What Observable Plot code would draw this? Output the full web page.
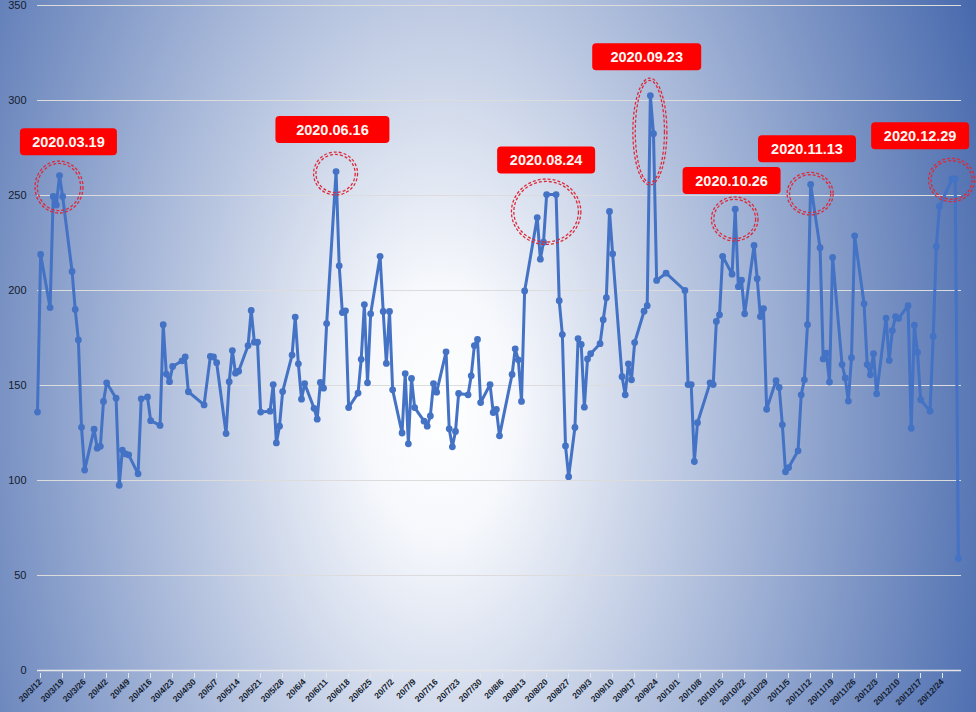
<!DOCTYPE html>
<html><head><meta charset="utf-8">
<script src="https://cdn.jsdelivr.net/npm/d3@7"></script>
<script src="https://cdn.jsdelivr.net/npm/@observablehq/plot@0.6"></script>
<style>html,body{margin:0;padding:0;} #chart svg{display:block;}</style>
</head><body><div id="chart"></div>
<script>
const dates = ["2020-03-12","2020-03-13","2020-03-16","2020-03-17","2020-03-18","2020-03-19","2020-03-20","2020-03-23","2020-03-24","2020-03-25","2020-03-26","2020-03-27","2020-03-30","2020-03-31","2020-04-01","2020-04-02","2020-04-03","2020-04-06","2020-04-07","2020-04-08","2020-04-09","2020-04-10","2020-04-13","2020-04-14","2020-04-16","2020-04-17","2020-04-20","2020-04-21","2020-04-22","2020-04-23","2020-04-24","2020-04-27","2020-04-28","2020-04-29","2020-05-04","2020-05-06","2020-05-07","2020-05-08","2020-05-11","2020-05-12","2020-05-13","2020-05-14","2020-05-15","2020-05-18","2020-05-19","2020-05-20","2020-05-21","2020-05-22","2020-05-25","2020-05-26","2020-05-27","2020-05-28","2020-05-29","2020-06-01","2020-06-02","2020-06-03","2020-06-04","2020-06-05","2020-06-08","2020-06-09","2020-06-10","2020-06-11","2020-06-12","2020-06-15","2020-06-16","2020-06-17","2020-06-18","2020-06-19","2020-06-22","2020-06-23","2020-06-24","2020-06-25","2020-06-26","2020-06-29","2020-06-30","2020-07-01","2020-07-02","2020-07-03","2020-07-06","2020-07-07","2020-07-08","2020-07-09","2020-07-10","2020-07-13","2020-07-14","2020-07-15","2020-07-16","2020-07-17","2020-07-20","2020-07-21","2020-07-22","2020-07-23","2020-07-24","2020-07-27","2020-07-28","2020-07-29","2020-07-30","2020-07-31","2020-08-03","2020-08-04","2020-08-05","2020-08-06","2020-08-10","2020-08-11","2020-08-12","2020-08-13","2020-08-14","2020-08-18","2020-08-19","2020-08-20","2020-08-21","2020-08-24","2020-08-25","2020-08-26","2020-08-27","2020-08-28","2020-08-30","2020-08-31","2020-09-01","2020-09-02","2020-09-03","2020-09-04","2020-09-07","2020-09-08","2020-09-09","2020-09-10","2020-09-11","2020-09-14","2020-09-15","2020-09-16","2020-09-17","2020-09-18","2020-09-21","2020-09-22","2020-09-23","2020-09-24","2020-09-25","2020-09-28","2020-10-04","2020-10-05","2020-10-06","2020-10-07","2020-10-08","2020-10-12","2020-10-13","2020-10-14","2020-10-15","2020-10-16","2020-10-19","2020-10-20","2020-10-21","2020-10-22","2020-10-23","2020-10-26","2020-10-27","2020-10-28","2020-10-29","2020-10-30","2020-11-02","2020-11-03","2020-11-04","2020-11-05","2020-11-06","2020-11-09","2020-11-10","2020-11-11","2020-11-12","2020-11-13","2020-11-16","2020-11-17","2020-11-18","2020-11-19","2020-11-20","2020-11-23","2020-11-24","2020-11-25","2020-11-26","2020-11-27","2020-11-30","2020-12-01","2020-12-02","2020-12-03","2020-12-04","2020-12-07","2020-12-08","2020-12-09","2020-12-10","2020-12-11","2020-12-14","2020-12-15","2020-12-16","2020-12-17","2020-12-18","2020-12-21","2020-12-22","2020-12-23","2020-12-24","2020-12-28","2020-12-29","2020-12-30"];

const values = [136,219,191,249.5,245,260.5,249.5,210,190,174,128,105.5,127,117,118,141.6,151.4,143.3,97.5,116,114,113.5,103.5,143,144,131.5,129,182,156,152,160,163,165,146.7,139.8,165.3,165,162,124.7,152,168.4,156.5,157.5,171,189.5,172.8,172.8,136,136.5,150.5,119.8,128.6,146.8,166,186,161.4,142.8,151,138,132.3,151.6,148.6,182.6,262.6,213,188.4,189.3,138.4,146,163.8,192.6,151.4,187.7,218,189,161.6,189,147.7,125,156.3,119.3,153.7,138.4,131.2,128.6,134,151,146.5,167.7,127.2,117.7,125.8,145.8,145.1,155.1,171,174.2,141,150.5,135.8,137.4,123.5,155.8,169.3,163.5,141.6,199.8,238.4,216.5,225.4,250.5,250.5,194.6,176.8,118.2,102,127.9,174.7,171.6,138.6,164,166.7,172,184.6,196.2,241.6,219.3,154.6,145.1,161.4,153,172.6,189.1,192,302.6,282.5,205.3,209.1,200,150.5,150.5,110,130.4,151.4,150.5,183.7,187.2,218,208.6,242.8,202,205.4,187.7,223.7,206.2,186.3,190.5,137.5,152.6,149,129.3,104.6,106.8,115.6,145.1,153,182,255.8,222.5,164,167,151.8,217.4,161,154,141.8,164.6,228.8,193,161,155.6,166.7,145.6,185.5,163.2,178.9,186.3,185.3,192,127.5,181.7,167.4,142.5,136.5,175.8,223.2,244.2,258.8,258.8,59];

const xTickDates = ["2020-03-12","2020-03-19","2020-03-26","2020-04-02","2020-04-09","2020-04-16","2020-04-23","2020-04-30","2020-05-07","2020-05-14","2020-05-21","2020-05-28","2020-06-04","2020-06-11","2020-06-18","2020-06-25","2020-07-02","2020-07-09","2020-07-16","2020-07-23","2020-07-30","2020-08-06","2020-08-13","2020-08-20","2020-08-27","2020-09-03","2020-09-10","2020-09-17","2020-09-24","2020-10-01","2020-10-08","2020-10-15","2020-10-22","2020-10-29","2020-11-05","2020-11-12","2020-11-19","2020-11-26","2020-12-03","2020-12-10","2020-12-17","2020-12-24"];
const xTickLabels = ["20/3/12","20/3/19","20/3/26","20/4/2","20/4/9","20/4/16","20/4/23","20/4/30","20/5/7","20/5/14","20/5/21","20/5/28","20/6/4","20/6/11","20/6/18","20/6/25","20/7/2","20/7/9","20/7/16","20/7/23","20/7/30","20/8/6","20/8/13","20/8/20","20/8/27","20/9/3","20/9/10","20/9/17","20/9/24","20/10/1","20/10/8","20/10/15","20/10/22","20/10/29","20/11/5","20/11/12","20/11/19","20/11/26","20/12/3","20/12/10","20/12/17","20/12/24"];
const yTicks = [0,50,100,150,200,250,300,350];

const annotationLabels = ["2020.03.19","2020.06.16","2020.08.24","2020.09.23","2020.10.26","2020.11.13","2020.12.29"];
const annotationDates = ["2020-03-22","2020-06-14","2020-08-21","2020-09-22","2020-10-19","2020-11-12","2020-12-18"];
const annotationValues = [278,284.5,268.4,322.8,257.6,274.4,281.2];
const highlightDates = ["2020-03-19","2020-06-15","2020-08-21","2020-09-23","2020-10-20","2020-11-13","2020-12-28"];
const highlightValues = [254.2,261.3,241.2,283.4,237.4,250.7,257.9];

// layout / style
const boxWidths = [97,114,98,109,98,98,98];
const highlightRadii = [[24,26],[22,21.5],[34.7,32.7],[17,53.5],[23.3,22],[23,21.3],[23,21.7]];

const parse = s => new Date(s + "T00:00:00Z");
const data = dates.map((d, i) => ({date: parse(d), value: values[i]}));
const tickMap = new Map(xTickDates.map((d, i) => [+parse(d), xTickLabels[i]]));

const plot = Plot.plot({
  width: 976, height: 712,
  marginTop: 5, marginBottom: 42, marginLeft: 37, marginRight: 15,
  style: {
    background: "radial-gradient(620px 1050px at 440px 410px, #ffffff 0%, #f6f8fc 12%, #3c60a8 100%)",
    fontFamily: "'Liberation Sans', Arial, sans-serif",
    color: "#141c2e"
  },
  x: {type: "utc", domain: [parse("2020-03-12"), parse("2020-12-31")]},
  y: {domain: [0, 350]},
  marks: [
    Plot.gridY(yTicks.filter(d => d > 0), {stroke: "#dcdcdc", strokeOpacity: 1, strokeWidth: 1}),
    Plot.ruleY([0], {stroke: "#e6e6e6", strokeWidth: 1.3}),
    Plot.axisY(yTicks, {tickSize: 0, tickPadding: 11, fontSize: 11, label: null}),
    Plot.axisX(xTickDates.map(parse), {tickSize: 5, tickPadding: 2, tickRotate: -45, tickFormat: d => tickMap.get(+d), fontSize: 8.5, fontWeight: "bold", label: null, stroke: "#e6e6e6", dx: 3, dy: 3}),
    Plot.line(data, {x: "date", y: "value", stroke: "#4472C4", strokeWidth: 3, strokeLinejoin: "round"}),
    Plot.dot(data, {x: "date", y: "value", r: 3.4, fill: "#4472C4"})
  ]
});

const xs = plot.scale("x"), ys = plot.scale("y");
const svg = d3.select(plot);
const g = svg.append("g");
highlightDates.forEach((d, i) => {
  const cx = xs.apply(parse(d)), cy = ys.apply(highlightValues[i]);
  const [rx, ry] = highlightRadii[i];
  [0, 2.4].forEach(off => {
    g.append("ellipse").attr("cx", cx).attr("cy", cy).attr("rx", rx - off).attr("ry", ry - off)
      .attr("fill", "none").attr("stroke", "#dc2a3a").attr("stroke-width", 1.3).attr("stroke-dasharray", "3 2");
  });
});
annotationLabels.forEach((t, i) => {
  const cx = xs.apply(parse(annotationDates[i])), cy = ys.apply(annotationValues[i]);
  const w = boxWidths[i], h = 27;
  g.append("rect").attr("x", cx - w / 2).attr("y", cy - h / 2).attr("width", w).attr("height", h)
    .attr("rx", 4).attr("fill", "#ff0000");
  g.append("text").attr("x", cx).attr("y", cy).attr("dy", "0.36em").attr("text-anchor", "middle")
    .attr("fill", "#fff8f4").attr("font-weight", "bold").attr("font-size", 14.5)
    .attr("font-family", "'Liberation Sans', Arial, sans-serif").text(t);
});

document.getElementById("chart").appendChild(plot);
</script>
</body></html>
